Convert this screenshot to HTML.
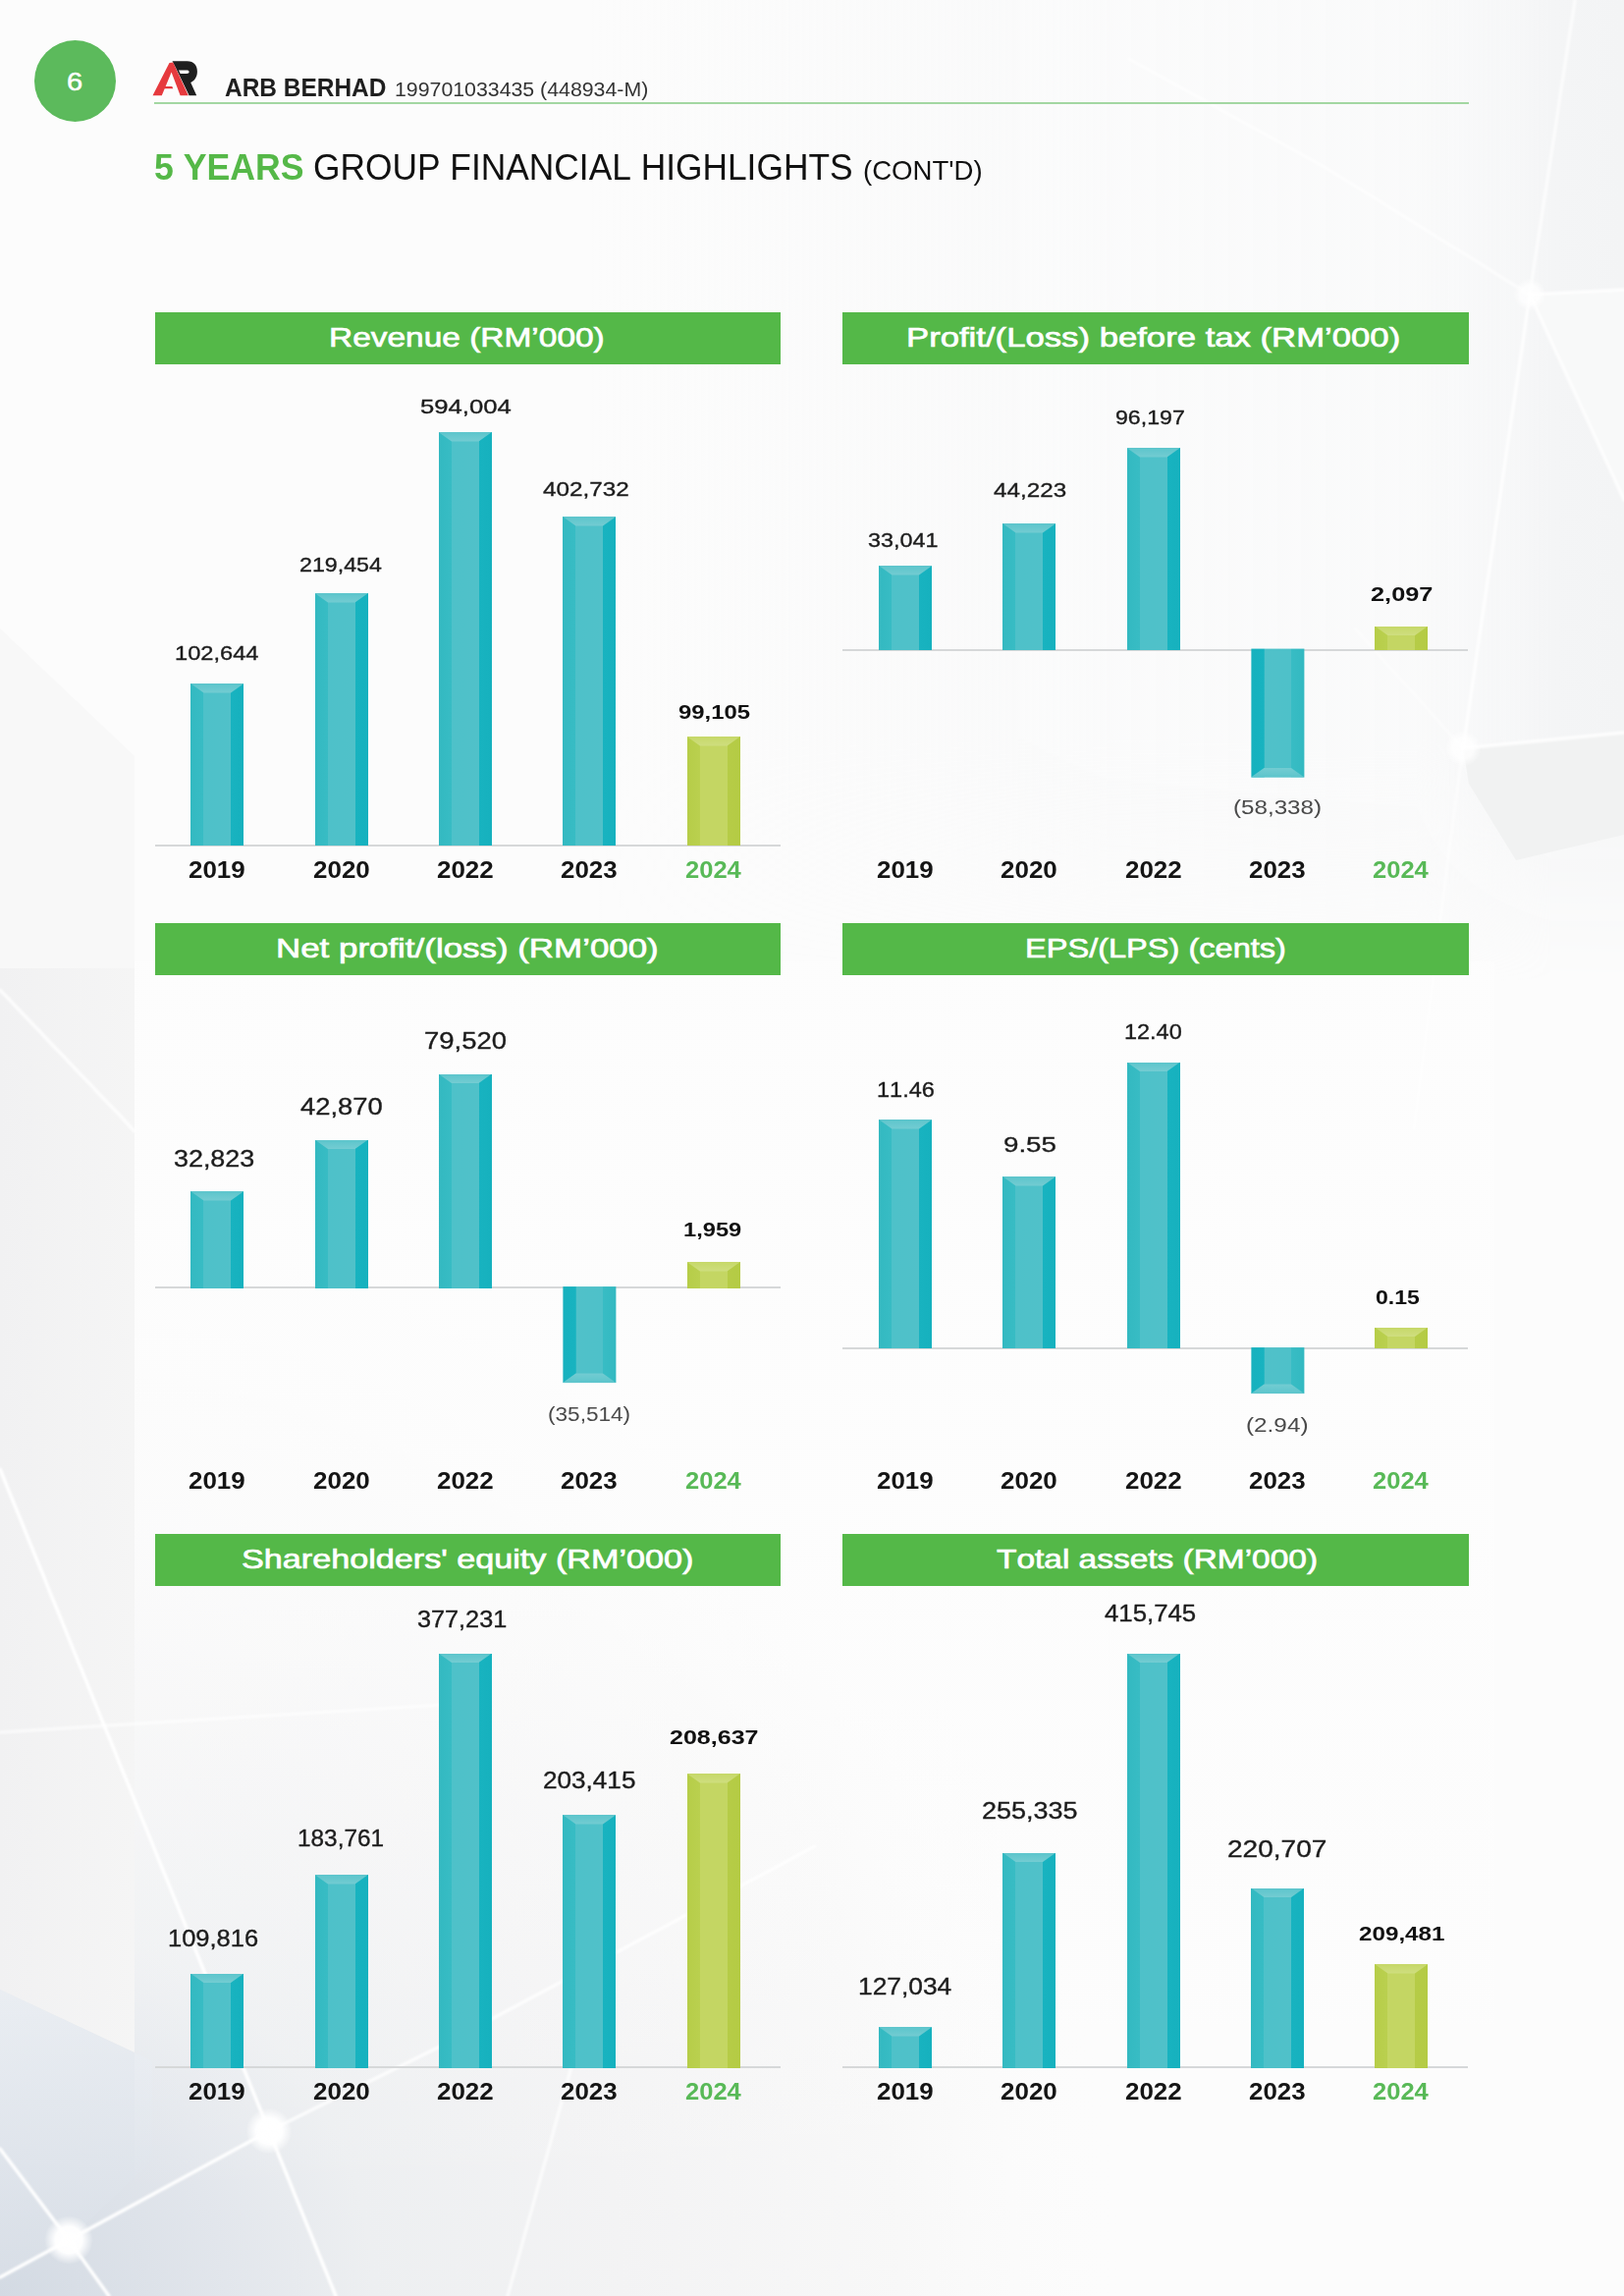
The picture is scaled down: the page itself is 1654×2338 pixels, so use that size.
<!DOCTYPE html>
<html><head><meta charset="utf-8"><title>5 Years Group Financial Highlights</title>
<style>
html,body{margin:0;padding:0}
body{width:1654px;height:2338px;position:relative;overflow:hidden;background:#fdfdfd;font-family:"Liberation Sans",sans-serif;font-kerning:none}
#sheet{position:absolute;left:0;top:0;width:1654px;height:2338px;overflow:hidden;filter:blur(0.45px)}
.t{position:absolute;white-space:nowrap;margin:0;padding:0;transform-origin:0 0}
.bar{position:absolute;width:54.4px;background:linear-gradient(90deg,#33b9c1 0,#38bcc4 13px,#4ec1c9 13.4px,#50c1c9 40.6px,#18b3c0 41px,#16b1be 100%)}
.bar i{position:absolute;left:0;top:0;width:100%;height:9.5px;background:linear-gradient(180deg,#5cc5cc,#74ccd2);clip-path:polygon(0 0,100% 0,calc(100% - 13.4px) 100%,13.4px 100%)}
.bar.g{background:linear-gradient(90deg,#b6cd48 0,#bad04f 13px,#c4d663 13.4px,#c4d663 40.6px,#b6cc47 41px,#b4cb44 100%)}
.bar.g i{background:linear-gradient(180deg,#c6d868,#cfde80)}
.bar.n{transform:rotate(180deg)}
</style></head><body>
<div id="sheet">
<svg style="position:absolute;left:0;top:0" width="1654" height="2338" viewBox="0 0 1654 2338">
<defs>
<radialGradient id="rg1" gradientUnits="userSpaceOnUse" cx="0" cy="2338" r="1150">
<stop offset="0" stop-color="#d3dae3"/><stop offset="0.2" stop-color="#e2e6ec"/><stop offset="0.33" stop-color="#edeff1"/><stop offset="0.55" stop-color="#f3f3f4"/><stop offset="0.8" stop-color="#f8f8f8"/><stop offset="1" stop-color="#fcfcfc" stop-opacity="0"/>
</radialGradient>
<linearGradient id="lg1" x1="0" y1="0" x2="0" y2="1"><stop offset="0" stop-color="#eaeef3"/><stop offset="1" stop-color="#d9dfe7"/></linearGradient>
<linearGradient id="lg2" x1="0" y1="0" x2="1" y2="0"><stop offset="0" stop-color="#f1f1f2"/><stop offset="1" stop-color="#f5f5f5"/></linearGradient>
<radialGradient id="nd"><stop offset="0" stop-color="#fff"/><stop offset="0.55" stop-color="#fff" stop-opacity="0.95"/><stop offset="1" stop-color="#fff" stop-opacity="0"/></radialGradient>
<filter id="bl"><feGaussianBlur stdDeviation="1.2"/></filter>
<linearGradient id="pg" x1="0" y1="979" x2="0" y2="2239" gradientUnits="userSpaceOnUse"><stop offset="0" stop-color="#fdfdfd" stop-opacity=".8"/><stop offset="0.45" stop-color="#fdfdfd" stop-opacity=".75"/><stop offset="0.62" stop-color="#fdfdfd" stop-opacity=".45"/><stop offset="1" stop-color="#fdfdfd" stop-opacity="0"/></linearGradient>
<linearGradient id="rs" x1="600" y1="0" x2="1654" y2="0" gradientUnits="userSpaceOnUse"><stop offset="0" stop-color="#f6f7f8" stop-opacity="0"/><stop offset="0.5" stop-color="#f7f8f9" stop-opacity=".3"/><stop offset="0.8" stop-color="#f6f7f8" stop-opacity=".35"/><stop offset="0.87" stop-color="#f5f6f7" stop-opacity=".7"/><stop offset="0.93" stop-color="#f4f5f6"/><stop offset="1" stop-color="#f3f4f5"/></linearGradient>
<linearGradient id="rmg" x1="0" y1="0" x2="0" y2="1000" gradientUnits="userSpaceOnUse"><stop offset="0" stop-color="#fff"/><stop offset="0.75" stop-color="#fff"/><stop offset="1" stop-color="#000"/></linearGradient>
<mask id="rm" maskUnits="userSpaceOnUse" x="600" y="0" width="1054" height="1000"><rect x="600" y="0" width="1054" height="1000" fill="url(#rmg)"/></mask>
</defs>
<rect width="1654" height="2338" fill="#fcfcfc"/>
<!-- faint facets top/right -->
<rect x="600" y="0" width="1054" height="1000" fill="url(#rs)" mask="url(#rm)"/>
<polygon points="1490,762 1654,746 1654,850 1544,876 1496,798" fill="#f1f2f2"/>
<polygon points="1558,300 1654,295 1654,509" fill="#f8f9f9"/>
<!-- bottom-left gradient -->
<rect x="0" y="1150" width="1300" height="1188" fill="url(#rg1)"/>
<!-- left grey strip -->
<polygon points="0,640 137,770 137,986 0,986" fill="#f8f8f8"/>
<polygon points="0,986 137,986 137,2090 0,2026" fill="url(#lg2)"/>
<polygon points="0,2026 155,2099 155,2200 70,2281 0,2320" fill="url(#lg1)" opacity=".8"/>
<!-- white panel over content area rows 2-3 -->
<rect x="137" y="979" width="1385" height="1260" fill="url(#pg)"/>
<g stroke="#fff" stroke-width="3.4" stroke-linecap="round" filter="url(#bl)" fill="none">
<path d="M274 2170 L70 2281 L0 2319"/>
<path d="M274 2170 L0 1496"/>
<path d="M274 2170 L450 2083 L830 1880" opacity=".8"/>
<path d="M274 2170 L342 2338"/>
<path d="M70 2281 L0 2188"/>
<path d="M70 2281 L111 2338"/>
<path d="M517 2338 L600 2040" opacity=".7"/>
<path d="M0 1764 L111 1757 L450 1736" opacity=".6"/>
<path d="M1558 300 L1490 762" opacity=".85"/>
<path d="M1558 300 L1604 0" opacity=".7"/>
<path d="M1558 300 L1654 295" opacity=".8"/>
<path d="M1558 300 L1354 173 L1150 60" opacity=".6"/>
<path d="M1558 300 L1654 509" opacity=".8"/>
<path d="M1490 762 L1654 746" opacity=".85"/>
<path d="M1490 762 L1476 866 L1440 1150" opacity=".5"/>
<path d="M1490 762 L1380 640" opacity=".4"/>
<path d="M0 1008 L126 1140 L137 1152" opacity=".8"/>
</g>
<circle cx="274" cy="2170" r="24" fill="url(#nd)"/>
<circle cx="70" cy="2281" r="25" fill="url(#nd)"/>
<circle cx="1558" cy="300" r="17" fill="url(#nd)" opacity=".8"/>
<circle cx="1490" cy="762" r="19" fill="url(#nd)" opacity=".8"/>
</svg>

<div style="position:absolute;left:34.5px;top:40.5px;width:83px;height:83px;border-radius:50%;background:#5cba5c"></div>
<div class="t" style="left:67.73px;top:70.00px;font-size:26.5px;line-height:26.5px;font-weight:400;color:#fff;transform:scaleX(1.0959);-webkit-text-stroke:0.5px #fff;">6</div>
<svg style="position:absolute;left:155px;top:61px" width="47" height="38" viewBox="0 0 47 38">
<path fill-rule="evenodd" d="M20.5 1.2 H35.5 C42.6 1.2 45.9 5.6 45.9 11.8 C45.9 17.4 43.2 21.4 39.2 22.9 L45.2 36.2 H37.6 L24 8 Z M27 10.6 H35 C36.8 10.6 37.6 11.3 37.6 12.3 C37.6 13.3 36.8 14 35 14 H28.6 Z" fill="#1e1e1e"/>
<path d="M0.5 36.3 L17.5 3 L21.3 2.6 L36.8 36.3 H28.6 L19.6 12.6 L13.65 27 H20.3 L21.3 29.3 H12.7 L9.8 36.3 Z" fill="#e63a3e"/>
</svg>
<div class="t" style="left:228.99px;top:76.00px;font-size:26px;line-height:26px;font-weight:700;color:#1f1f1f;transform:scaleX(0.9408);">ARB BERHAD</div>
<div class="t" style="left:401.58px;top:81.00px;font-size:20px;line-height:20px;font-weight:400;color:#333;transform:scaleX(1.0653);">199701033435 (448934-M)</div>
<div style="position:absolute;left:157px;top:104px;width:1339px;height:2px;background:#a3d7a2"></div>
<div class="t" style="left:156.90px;top:153.00px;font-size:36.6px;line-height:36.6px;font-weight:700;color:#55b848;transform:scaleX(0.9749);">5 YEARS</div>
<div class="t" style="left:318.72px;top:153.00px;font-size:36.6px;line-height:36.6px;font-weight:400;color:#111;transform:scaleX(0.9657);">GROUP FINANCIAL HIGHLIGHTS</div>
<div class="t" style="left:879.29px;top:160.00px;font-size:27.5px;line-height:27.5px;font-weight:400;color:#111;transform:scaleX(1.0032);">(CONT'D)</div>
<div style="position:absolute;left:157.5px;top:318.3px;width:637.5px;height:52.3px;background:#54b848"></div>
<div class="t" style="left:335.46px;top:330.00px;font-size:28px;line-height:28px;font-weight:400;color:#fff;transform:scaleX(1.1946);-webkit-text-stroke:0.7px #fff;">Revenue (RM’000)</div>
<div style="position:absolute;left:157.5px;top:859.5px;width:637px;height:2.2px;background:#d6d8d9"></div>
<div class="bar" style="left:194.05px;top:696.00px;height:165.10px"><i></i></div>
<div class="bar" style="left:320.55px;top:604.00px;height:257.10px"><i></i></div>
<div class="bar" style="left:446.55px;top:440.00px;height:421.10px"><i></i></div>
<div class="bar" style="left:573.05px;top:526.00px;height:335.10px"><i></i></div>
<div class="bar g" style="left:699.55px;top:750.00px;height:111.10px"><i></i></div>
<div class="t" style="left:178.20px;top:654.00px;font-size:21.0px;line-height:21.0px;font-weight:400;color:#1c1c1c;transform:scaleX(1.1263);-webkit-text-stroke:0.35px #1c1c1c;">102,644</div>
<div class="t" style="left:305.33px;top:564.00px;font-size:21.0px;line-height:21.0px;font-weight:400;color:#1c1c1c;transform:scaleX(1.1046);-webkit-text-stroke:0.35px #1c1c1c;">219,454</div>
<div class="t" style="left:427.97px;top:403.00px;font-size:21.0px;line-height:21.0px;font-weight:400;color:#1c1c1c;transform:scaleX(1.2222);-webkit-text-stroke:0.35px #1c1c1c;">594,004</div>
<div class="t" style="left:553.44px;top:487.00px;font-size:21.0px;line-height:21.0px;font-weight:400;color:#1c1c1c;transform:scaleX(1.1564);-webkit-text-stroke:0.35px #1c1c1c;">402,732</div>
<div class="t" style="left:690.67px;top:715.00px;font-size:20.5px;line-height:20.5px;font-weight:700;color:#111;transform:scaleX(1.1641);">99,105</div>
<div class="t" style="left:192.45px;top:874.00px;font-size:24.5px;line-height:24.5px;font-weight:700;color:#151515;transform:scaleX(1.0579);">2019</div>
<div class="t" style="left:318.95px;top:874.00px;font-size:24.5px;line-height:24.5px;font-weight:700;color:#151515;transform:scaleX(1.0599);">2020</div>
<div class="t" style="left:444.95px;top:874.00px;font-size:24.5px;line-height:24.5px;font-weight:700;color:#151515;transform:scaleX(1.0594);">2022</div>
<div class="t" style="left:571.45px;top:874.00px;font-size:24.5px;line-height:24.5px;font-weight:700;color:#151515;transform:scaleX(1.0575);">2023</div>
<div class="t" style="left:697.96px;top:874.00px;font-size:24.5px;line-height:24.5px;font-weight:700;color:#58b957;transform:scaleX(1.0426);">2024</div>
<div style="position:absolute;left:858px;top:318.3px;width:637.5px;height:52.3px;background:#54b848"></div>
<div class="t" style="left:922.55px;top:330.00px;font-size:28px;line-height:28px;font-weight:400;color:#fff;transform:scaleX(1.2390);-webkit-text-stroke:0.7px #fff;">Profit/(Loss) before tax (RM’000)</div>
<div style="position:absolute;left:858px;top:660.5px;width:637px;height:2.2px;background:#d6d8d9"></div>
<div class="bar" style="left:895.05px;top:576.00px;height:86.10px"><i></i></div>
<div class="bar" style="left:1021.05px;top:533.00px;height:129.10px"><i></i></div>
<div class="bar" style="left:1147.55px;top:456.00px;height:206.10px"><i></i></div>
<div class="bar n" style="left:1274.05px;top:660.90px;height:130.60px"><i></i></div>
<div class="bar g" style="left:1400.05px;top:637.50px;height:24.60px"><i></i></div>
<div class="t" style="left:883.61px;top:539.00px;font-size:21.0px;line-height:21.0px;font-weight:400;color:#1c1c1c;transform:scaleX(1.1137);-webkit-text-stroke:0.35px #1c1c1c;">33,041</div>
<div class="t" style="left:1012.44px;top:488.00px;font-size:21.0px;line-height:21.0px;font-weight:400;color:#1c1c1c;transform:scaleX(1.1540);-webkit-text-stroke:0.35px #1c1c1c;">44,223</div>
<div class="t" style="left:1135.92px;top:414.00px;font-size:21.0px;line-height:21.0px;font-weight:400;color:#1c1c1c;transform:scaleX(1.1015);-webkit-text-stroke:0.35px #1c1c1c;">96,197</div>
<div class="t" style="left:1256.20px;top:812.00px;font-size:20.5px;line-height:20.5px;font-weight:400;color:#4a4a4a;transform:scaleX(1.1787);">(58,338)</div>
<div class="t" style="left:1396.12px;top:595.00px;font-size:20.5px;line-height:20.5px;font-weight:700;color:#111;transform:scaleX(1.2357);">2,097</div>
<div class="t" style="left:893.45px;top:874.00px;font-size:24.5px;line-height:24.5px;font-weight:700;color:#151515;transform:scaleX(1.0579);">2019</div>
<div class="t" style="left:1019.45px;top:874.00px;font-size:24.5px;line-height:24.5px;font-weight:700;color:#151515;transform:scaleX(1.0599);">2020</div>
<div class="t" style="left:1145.95px;top:874.00px;font-size:24.5px;line-height:24.5px;font-weight:700;color:#151515;transform:scaleX(1.0594);">2022</div>
<div class="t" style="left:1272.45px;top:874.00px;font-size:24.5px;line-height:24.5px;font-weight:700;color:#151515;transform:scaleX(1.0575);">2023</div>
<div class="t" style="left:1398.46px;top:874.00px;font-size:24.5px;line-height:24.5px;font-weight:700;color:#58b957;transform:scaleX(1.0426);">2024</div>
<div style="position:absolute;left:157.5px;top:940.4px;width:637.5px;height:52.3px;background:#54b848"></div>
<div class="t" style="left:281.04px;top:952.00px;font-size:28px;line-height:28px;font-weight:400;color:#fff;transform:scaleX(1.2462);-webkit-text-stroke:0.7px #fff;">Net profit/(loss) (RM’000)</div>
<div style="position:absolute;left:157.5px;top:1310.0px;width:637px;height:2.2px;background:#d6d8d9"></div>
<div class="bar" style="left:194.05px;top:1213.00px;height:98.60px"><i></i></div>
<div class="bar" style="left:320.55px;top:1160.50px;height:151.10px"><i></i></div>
<div class="bar" style="left:446.55px;top:1093.50px;height:218.10px"><i></i></div>
<div class="bar n" style="left:573.05px;top:1310.40px;height:98.10px"><i></i></div>
<div class="bar g" style="left:699.55px;top:1285.00px;height:26.60px"><i></i></div>
<div class="t" style="left:177.48px;top:1169.00px;font-size:23.0px;line-height:23.0px;font-weight:400;color:#1c1c1c;transform:scaleX(1.1685);-webkit-text-stroke:0.35px #1c1c1c;">32,823</div>
<div class="t" style="left:305.87px;top:1116.00px;font-size:23.0px;line-height:23.0px;font-weight:400;color:#1c1c1c;transform:scaleX(1.1898);-webkit-text-stroke:0.35px #1c1c1c;">42,870</div>
<div class="t" style="left:432.09px;top:1049.00px;font-size:23.0px;line-height:23.0px;font-weight:400;color:#1c1c1c;transform:scaleX(1.1938);-webkit-text-stroke:0.35px #1c1c1c;">79,520</div>
<div class="t" style="left:557.80px;top:1430.00px;font-size:20.5px;line-height:20.5px;font-weight:400;color:#4a4a4a;transform:scaleX(1.1014);">(35,514)</div>
<div class="t" style="left:696.31px;top:1242.00px;font-size:20.5px;line-height:20.5px;font-weight:700;color:#111;transform:scaleX(1.1554);">1,959</div>
<div class="t" style="left:192.45px;top:1496.00px;font-size:24.5px;line-height:24.5px;font-weight:700;color:#151515;transform:scaleX(1.0579);">2019</div>
<div class="t" style="left:318.95px;top:1496.00px;font-size:24.5px;line-height:24.5px;font-weight:700;color:#151515;transform:scaleX(1.0599);">2020</div>
<div class="t" style="left:444.95px;top:1496.00px;font-size:24.5px;line-height:24.5px;font-weight:700;color:#151515;transform:scaleX(1.0594);">2022</div>
<div class="t" style="left:571.45px;top:1496.00px;font-size:24.5px;line-height:24.5px;font-weight:700;color:#151515;transform:scaleX(1.0575);">2023</div>
<div class="t" style="left:697.96px;top:1496.00px;font-size:24.5px;line-height:24.5px;font-weight:700;color:#58b957;transform:scaleX(1.0426);">2024</div>
<div style="position:absolute;left:858px;top:940.4px;width:637.5px;height:52.3px;background:#54b848"></div>
<div class="t" style="left:1043.73px;top:952.00px;font-size:28px;line-height:28px;font-weight:400;color:#fff;transform:scaleX(1.1625);-webkit-text-stroke:0.7px #fff;">EPS/(LPS) (cents)</div>
<div style="position:absolute;left:858px;top:1371.5px;width:637px;height:2.2px;background:#d6d8d9"></div>
<div class="bar" style="left:895.05px;top:1140.00px;height:233.10px"><i></i></div>
<div class="bar" style="left:1021.05px;top:1198.00px;height:175.10px"><i></i></div>
<div class="bar" style="left:1147.55px;top:1081.50px;height:291.60px"><i></i></div>
<div class="bar n" style="left:1274.05px;top:1371.90px;height:47.10px"><i></i></div>
<div class="bar g" style="left:1400.05px;top:1351.50px;height:21.60px"><i></i></div>
<div class="t" style="left:892.71px;top:1099.00px;font-size:22.5px;line-height:22.5px;font-weight:400;color:#1c1c1c;transform:scaleX(1.0447);-webkit-text-stroke:0.35px #1c1c1c;">11.46</div>
<div class="t" style="left:1022.20px;top:1155.00px;font-size:22.5px;line-height:22.5px;font-weight:400;color:#1c1c1c;transform:scaleX(1.2323);-webkit-text-stroke:0.35px #1c1c1c;">9.55</div>
<div class="t" style="left:1145.21px;top:1040.00px;font-size:22.5px;line-height:22.5px;font-weight:400;color:#1c1c1c;transform:scaleX(1.0426);-webkit-text-stroke:0.35px #1c1c1c;">12.40</div>
<div class="t" style="left:1269.29px;top:1441.00px;font-size:20.5px;line-height:20.5px;font-weight:400;color:#4a4a4a;transform:scaleX(1.1860);">(2.94)</div>
<div class="t" style="left:1401.19px;top:1311.00px;font-size:20.5px;line-height:20.5px;font-weight:700;color:#111;transform:scaleX(1.1268);">0.15</div>
<div class="t" style="left:893.45px;top:1496.00px;font-size:24.5px;line-height:24.5px;font-weight:700;color:#151515;transform:scaleX(1.0579);">2019</div>
<div class="t" style="left:1019.45px;top:1496.00px;font-size:24.5px;line-height:24.5px;font-weight:700;color:#151515;transform:scaleX(1.0599);">2020</div>
<div class="t" style="left:1145.95px;top:1496.00px;font-size:24.5px;line-height:24.5px;font-weight:700;color:#151515;transform:scaleX(1.0594);">2022</div>
<div class="t" style="left:1272.45px;top:1496.00px;font-size:24.5px;line-height:24.5px;font-weight:700;color:#151515;transform:scaleX(1.0575);">2023</div>
<div class="t" style="left:1398.46px;top:1496.00px;font-size:24.5px;line-height:24.5px;font-weight:700;color:#58b957;transform:scaleX(1.0426);">2024</div>
<div style="position:absolute;left:157.5px;top:1562.3px;width:637.5px;height:52.3px;background:#54b848"></div>
<div class="t" style="left:245.85px;top:1574.00px;font-size:28px;line-height:28px;font-weight:400;color:#fff;transform:scaleX(1.2202);-webkit-text-stroke:0.7px #fff;">Shareholders' equity (RM’000)</div>
<div style="position:absolute;left:157.5px;top:2104.0px;width:637px;height:2.2px;background:#d6d8d9"></div>
<div class="bar" style="left:194.05px;top:2009.50px;height:96.10px"><i></i></div>
<div class="bar" style="left:320.55px;top:1909.00px;height:196.60px"><i></i></div>
<div class="bar" style="left:446.55px;top:1683.50px;height:422.10px"><i></i></div>
<div class="bar" style="left:573.05px;top:1848.00px;height:257.60px"><i></i></div>
<div class="bar g" style="left:699.55px;top:1806.00px;height:299.60px"><i></i></div>
<div class="t" style="left:170.56px;top:1963.00px;font-size:23.0px;line-height:23.0px;font-weight:400;color:#1c1c1c;transform:scaleX(1.1073);-webkit-text-stroke:0.35px #1c1c1c;">109,816</div>
<div class="t" style="left:303.14px;top:1861.00px;font-size:23.0px;line-height:23.0px;font-weight:400;color:#1c1c1c;transform:scaleX(1.0590);-webkit-text-stroke:0.35px #1c1c1c;">183,761</div>
<div class="t" style="left:425.04px;top:1638.00px;font-size:23.0px;line-height:23.0px;font-weight:400;color:#1c1c1c;transform:scaleX(1.0969);-webkit-text-stroke:0.35px #1c1c1c;">377,231</div>
<div class="t" style="left:552.69px;top:1802.00px;font-size:23.0px;line-height:23.0px;font-weight:400;color:#1c1c1c;transform:scaleX(1.1356);-webkit-text-stroke:0.35px #1c1c1c;">203,415</div>
<div class="t" style="left:681.63px;top:1759.00px;font-size:20.5px;line-height:20.5px;font-weight:700;color:#111;transform:scaleX(1.2208);">208,637</div>
<div class="t" style="left:192.45px;top:2118.00px;font-size:24.5px;line-height:24.5px;font-weight:700;color:#151515;transform:scaleX(1.0579);">2019</div>
<div class="t" style="left:318.95px;top:2118.00px;font-size:24.5px;line-height:24.5px;font-weight:700;color:#151515;transform:scaleX(1.0599);">2020</div>
<div class="t" style="left:444.95px;top:2118.00px;font-size:24.5px;line-height:24.5px;font-weight:700;color:#151515;transform:scaleX(1.0594);">2022</div>
<div class="t" style="left:571.45px;top:2118.00px;font-size:24.5px;line-height:24.5px;font-weight:700;color:#151515;transform:scaleX(1.0575);">2023</div>
<div class="t" style="left:697.96px;top:2118.00px;font-size:24.5px;line-height:24.5px;font-weight:700;color:#58b957;transform:scaleX(1.0426);">2024</div>
<div style="position:absolute;left:858px;top:1562.3px;width:637.5px;height:52.3px;background:#54b848"></div>
<div class="t" style="left:1014.65px;top:1574.00px;font-size:28px;line-height:28px;font-weight:400;color:#fff;transform:scaleX(1.1941);-webkit-text-stroke:0.7px #fff;">Total assets (RM’000)</div>
<div style="position:absolute;left:858px;top:2104.0px;width:637px;height:2.2px;background:#d6d8d9"></div>
<div class="bar" style="left:895.05px;top:2064.00px;height:41.60px"><i></i></div>
<div class="bar" style="left:1021.05px;top:1886.50px;height:219.10px"><i></i></div>
<div class="bar" style="left:1147.55px;top:1683.50px;height:422.10px"><i></i></div>
<div class="bar" style="left:1274.05px;top:1922.50px;height:183.10px"><i></i></div>
<div class="bar g" style="left:1400.05px;top:2000.00px;height:105.60px"><i></i></div>
<div class="t" style="left:873.99px;top:2012.00px;font-size:23.0px;line-height:23.0px;font-weight:400;color:#1c1c1c;transform:scaleX(1.1460);-webkit-text-stroke:0.35px #1c1c1c;">127,034</div>
<div class="t" style="left:999.64px;top:1833.00px;font-size:23.0px;line-height:23.0px;font-weight:400;color:#1c1c1c;transform:scaleX(1.1726);-webkit-text-stroke:0.35px #1c1c1c;">255,335</div>
<div class="t" style="left:1124.91px;top:1632.00px;font-size:23.0px;line-height:23.0px;font-weight:400;color:#1c1c1c;transform:scaleX(1.1207);-webkit-text-stroke:0.35px #1c1c1c;">415,745</div>
<div class="t" style="left:1249.59px;top:1872.00px;font-size:23.0px;line-height:23.0px;font-weight:400;color:#1c1c1c;transform:scaleX(1.2187);-webkit-text-stroke:0.35px #1c1c1c;">220,707</div>
<div class="t" style="left:1383.66px;top:1959.00px;font-size:20.5px;line-height:20.5px;font-weight:700;color:#111;transform:scaleX(1.1810);">209,481</div>
<div class="t" style="left:893.45px;top:2118.00px;font-size:24.5px;line-height:24.5px;font-weight:700;color:#151515;transform:scaleX(1.0579);">2019</div>
<div class="t" style="left:1019.45px;top:2118.00px;font-size:24.5px;line-height:24.5px;font-weight:700;color:#151515;transform:scaleX(1.0599);">2020</div>
<div class="t" style="left:1145.95px;top:2118.00px;font-size:24.5px;line-height:24.5px;font-weight:700;color:#151515;transform:scaleX(1.0594);">2022</div>
<div class="t" style="left:1272.45px;top:2118.00px;font-size:24.5px;line-height:24.5px;font-weight:700;color:#151515;transform:scaleX(1.0575);">2023</div>
<div class="t" style="left:1398.46px;top:2118.00px;font-size:24.5px;line-height:24.5px;font-weight:700;color:#58b957;transform:scaleX(1.0426);">2024</div>
</div>
</body></html>
